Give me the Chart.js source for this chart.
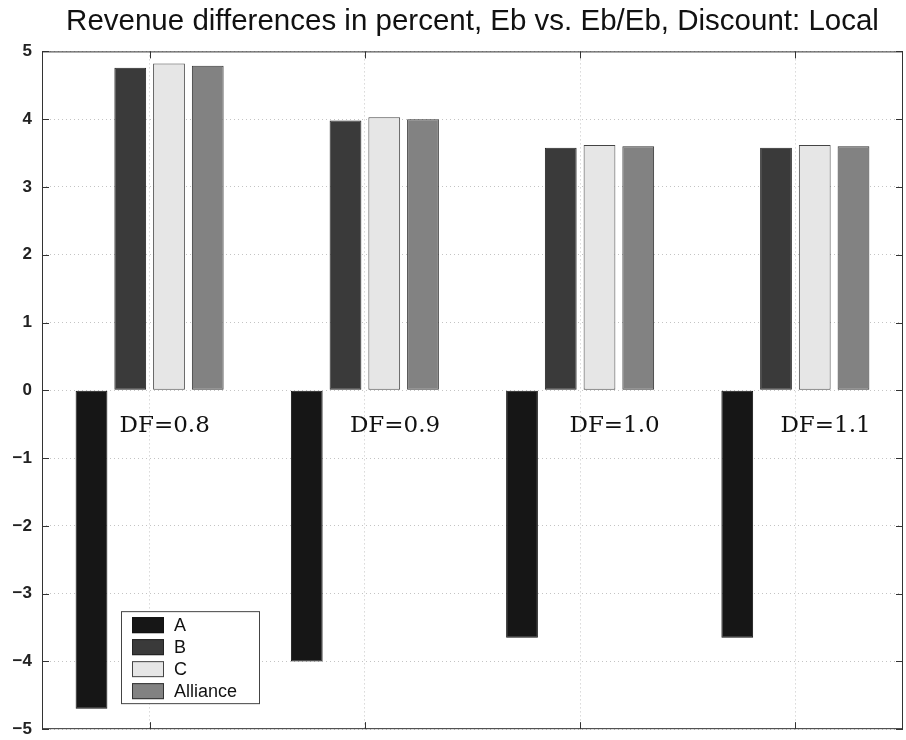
<!DOCTYPE html>
<html>
<head>
<meta charset="utf-8">
<script src="https://cdn.jsdelivr.net/npm/chart.js@4"></script>
<style>
  html, body { margin: 0; padding: 0; background: #fff; }
  #wrap { width: 906px; height: 740px; }
</style>
</head>
<body>
<div id="wrap"><canvas id="chart" width="906" height="740"></canvas></div>
<script>
// categories / group labels
const categories = ['DF=0.8', 'DF=0.9', 'DF=1.0', 'DF=1.1'];
const seriesNames = ['A', 'B', 'C', 'Alliance'];
// revenue differences in percent
const valuesA = [-4.70, -4.00, -3.65, -3.65];
const valuesB = [4.76, 3.98, 3.58, 3.58];
const valuesC = [4.82, 4.03, 3.62, 3.62];
const valuesAlliance = [4.79, 4.00, 3.60, 3.60];
const yTicks = [-5, -4, -3, -2, -1, 0, 1, 2, 3, 4, 5];

const fills = ['#161616', '#3a3a3a', '#e6e6e6', '#828282'];
const edges = ['#111', '#222', '#444', '#333'];
// where the DF text sits right of each group centre (in category units)
const labelShift = [0.07, 0.14, 0.16, 0.14];

// frame, inward tick marks, DF labels and the boxed legend
const matlabLook = {
    id: 'matlabLook',
    afterDraw(chart) {
        const ctx = chart.ctx;
        const a = chart.chartArea;
        const x = chart.scales.x, y = chart.scales.y;
        ctx.save();
        ctx.strokeStyle = '#333';
        ctx.lineWidth = 1;
        ctx.strokeRect(a.left + 0.5, a.top + 0.5, a.right - a.left - 1, a.bottom - a.top - 1);
        ctx.beginPath();
        yTicks.forEach(v => {
            const py = Math.round(y.getPixelForValue(v)) + 0.5;
            ctx.moveTo(a.left, py); ctx.lineTo(a.left + 7, py);
            ctx.moveTo(a.right, py); ctx.lineTo(a.right - 7, py);
        });
        categories.forEach((c, i) => {
            const px = Math.round(x.getPixelForValue(i)) + 0.5;
            ctx.moveTo(px, a.bottom); ctx.lineTo(px, a.bottom - 7);
            ctx.moveTo(px, a.top); ctx.lineTo(px, a.top + 7);
        });
        ctx.stroke();

        // group labels under the zero line
        ctx.fillStyle = '#111';
        ctx.font = '23px "DejaVu Serif"';
        ctx.textAlign = 'center';
        ctx.textBaseline = 'middle';
        const step = x.getPixelForValue(1) - x.getPixelForValue(0);
        categories.forEach((c, i) => {
            ctx.fillText(c, x.getPixelForValue(i) + step * labelShift[i], y.getPixelForValue(-0.53));
        });

        // legend box
        const lx = a.left + 79, ly = a.bottom - 118, lw = 138, lh = 92;
        ctx.fillStyle = '#fff';
        ctx.fillRect(lx, ly, lw, lh);
        ctx.strokeStyle = '#444';
        ctx.strokeRect(lx + 0.5, ly + 0.5, lw, lh);
        ctx.font = '18px "Liberation Sans"';
        ctx.textAlign = 'left';
        seriesNames.forEach((n, i) => {
            const cy = ly + 14 + i * 22;
            ctx.fillStyle = fills[i];
            ctx.fillRect(lx + 11, cy - 8, 32, 16);
            ctx.strokeStyle = edges[i];
            ctx.strokeRect(lx + 11.5, cy - 7.5, 31, 15);
            ctx.fillStyle = '#111';
            ctx.fillText(n, lx + 53, cy + 1);
        });
        ctx.restore();
    }
};

const data = {
    labels: categories,
    datasets: [valuesA, valuesB, valuesC, valuesAlliance].map((vals, i) => ({
        label: seriesNames[i],
        data: vals,
        backgroundColor: fills[i],
        borderColor: edges[i],
        borderWidth: 1,
        borderSkipped: false,
        categoryPercentage: 0.72,
        barPercentage: 0.82
    }))
};

const config = {
    type: 'bar',
    data: data,
    plugins: [matlabLook],
    options: {
        responsive: false,
        animation: false,
        layout: { padding: { left: 0, right: 3, top: 0, bottom: 10 } },
        plugins: {
            legend: { display: false },
            tooltip: { enabled: false },
            title: {
                display: true,
                fullSize: false,
                text: 'Revenue differences in percent, Eb vs. Eb/Eb, Discount: Local',
                color: '#111',
                font: { family: '"Liberation Sans"', size: 29.5, weight: 'normal' },
                padding: { top: 4, bottom: 12 }
            }
        },
        scales: {
            x: {
                offset: true,
                grid: {
                    offset: false,
                    color: '#c4c4c4',
                    lineWidth: 1,
                    drawTicks: false
                },
                border: { display: false, dash: [1, 3] },
                ticks: { display: false },
                afterFit(s) { s.height = 0; }
            },
            y: {
                min: -5,
                max: 5,
                afterBuildTicks(s) { s.ticks = yTicks.map(v => ({ value: v })); },
                grid: { color: '#c4c4c4', lineWidth: 1, drawTicks: false },
                border: { display: false, dash: [1, 3] },
                ticks: {
                    padding: 10,
                    color: '#222',
                    font: { family: '"Liberation Sans"', size: 17, weight: 'bold', lineHeight: 0.1 },
                    callback: v => String(v).replace('-', '\u2212')
                },
                afterFit(s) { s.width = 42; }
            }
        }
    }
};

const chart = new Chart(document.getElementById('chart'), config);
</script>
</body>
</html>
